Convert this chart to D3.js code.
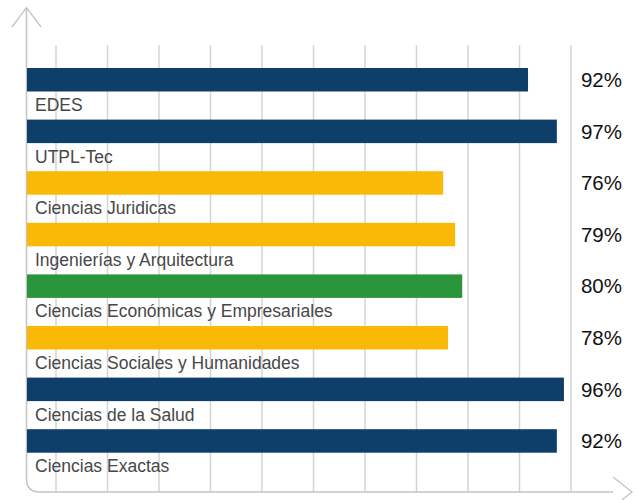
<!DOCTYPE html>
<html>
<head>
<meta charset="utf-8">
<script src="https://cdn.jsdelivr.net/npm/d3@7"></script>
<style>
  html, body { margin: 0; padding: 0; background: #fff; }
  svg { display: block; }
</style>
</head>
<body>
<svg id="chart" width="637" height="500"></svg>
<script>
// ---- data ----
const categories = [
  "EDES",
  "UTPL-Tec",
  "Ciencias Juridicas",
  "Ingenierías y Arquitectura",
  "Ciencias Económicas y Empresariales",
  "Ciencias Sociales y Humanidades",
  "Ciencias de la Salud",
  "Ciencias Exactas"
];
// percentage labels shown at right
const percentLabels = ["92%", "97%", "76%", "79%", "80%", "78%", "96%", "92%"];
// bar lengths as drawn in the picture (percent units)
const barValues = [92.1, 97.4, 76.5, 78.7, 80.0, 77.4, 98.7, 97.4];
// colour group of each bar
const groups = ["navy", "navy", "yellow", "yellow", "green", "yellow", "navy", "navy"];
const gridCount = 10;

// ---- drawing ----
const svg = d3.select("#chart");
const colors = { navy: "#0e3f6b", yellow: "#fbb907", green: "#2a953a" };

const x = d3.scaleLinear().domain([0, 100]).range([27, 571]);
const gridX = d3.scaleLinear().domain([0, gridCount]).range([56, 571]);

const step = 51.6, barH = 23.5;
const y = d3.scaleBand()
  .domain(categories)
  .range([68, 68 + categories.length * step - (step - barH)])
  .paddingInner((step - barH) / step)
  .paddingOuter(0);

// gridlines
svg.append("g").selectAll("line")
  .data(d3.range(0, gridCount + 1))
  .join("line")
  .attr("x1", d => gridX(d)).attr("x2", d => gridX(d))
  .attr("y1", 45).attr("y2", 492)
  .attr("stroke", "#d4d4d4").attr("stroke-width", 1.5);

// axis frame with rounded corner and arrows
const axisColor = "#c4c4c4";
svg.append("path")
  .attr("d", "M26.5,8 L26.5,479 Q26.5,492 40,492 L613,492")
  .attr("fill", "none").attr("stroke", axisColor).attr("stroke-width", 1.5);
svg.append("path")
  .attr("d", "M12,27 L26.5,7.5 L41,27")
  .attr("fill", "none").attr("stroke", axisColor).attr("stroke-width", 1.3);
svg.append("path")
  .attr("d", "M613,477 L632,492 L613,507")
  .attr("fill", "none").attr("stroke", axisColor).attr("stroke-width", 1.3);

// bars
svg.append("g").selectAll("rect")
  .data(categories)
  .join("rect")
  .attr("x", x(0))
  .attr("y", d => y(d))
  .attr("width", (d, i) => x(barValues[i]) - x(0))
  .attr("height", y.bandwidth())
  .attr("fill", (d, i) => colors[groups[i]]);

// category labels below bars
svg.append("g").selectAll("text")
  .data(categories)
  .join("text")
  .attr("x", 35)
  .attr("y", d => y(d) + y.bandwidth() + 19.5)
  .attr("font-family", "Liberation Sans, Arial, sans-serif")
  .attr("font-size", 17.5)
  .attr("fill", "#474747")
  .text(d => d);

// percentage labels at right
svg.append("g").selectAll("text")
  .data(percentLabels)
  .join("text")
  .attr("x", 622)
  .attr("y", (d, i) => y(categories[i]) + y.bandwidth() / 2)
  .attr("dy", "0.35em")
  .attr("text-anchor", "end")
  .attr("font-family", "Liberation Sans, Arial, sans-serif")
  .attr("font-size", 20.5)
  .attr("fill", "#111")
  .text(d => d);
</script>
</body>
</html>
